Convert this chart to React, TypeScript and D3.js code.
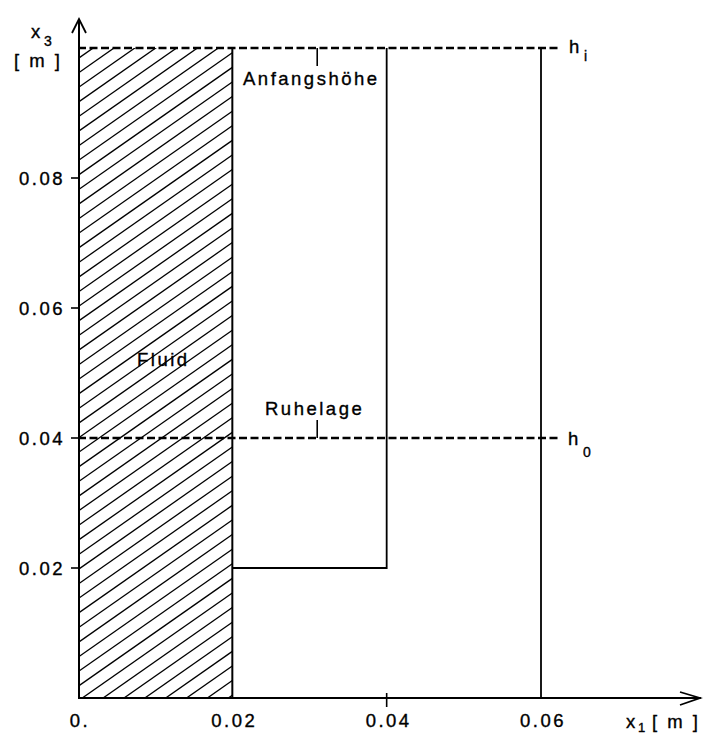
import React from "react";
import * as d3 from "d3";

const yTicks = [0.02, 0.04, 0.06, 0.08];
const yTickLabels = ["0.02", "0.04", "0.06", "0.08"];
const xTicks = [0, 0.02, 0.04, 0.06];
const xTickLabels = ["0.", "0.02", "0.04", "0.06"];

// Fluid region (hatched)
const fluidX = [0, 0.02];
const fluidY = [0, 0.1];
// Container outline: inner wall with step, outer wall
const innerWallX = [0.02, 0.02];
const innerWallY = [0, 0.1];
const stepX = [0.02, 0.04, 0.04];
const stepY = [0.02, 0.02, 0.1];
const outerWallX = [0.06, 0.06];
const outerWallY = [0, 0.1];
// Levels
const levelNames = ["Anfangshöhe", "Ruhelage"];
const levelValues = [0.1, 0.04];
const levelLeaderX = 0.031;

const W = 706;
const H = 734;
const FONT = "'Liberation Sans', Arial, Helvetica, sans-serif";

export default function App() {
  const x = d3.scaleLinear().domain([0, 0.06]).range([78, 541]);
  const y = d3.scaleLinear().domain([0, 0.1]).range([698, 48]);

  const x0 = x(fluidX[0]);
  const x1 = x(fluidX[1]);
  const yTop = y(fluidY[1]);
  const yBot = y(fluidY[0]);

  // hatch lines (style)
  const hatch: [number, number, number, number][] = [];
  const slope = 0.7;
  const spacing = 14.6;
  for (let c = yTop - 4; c < yBot + slope * (x1 - x0) + spacing; c += spacing) {
    hatch.push([x0, c, x1, c - slope * (x1 - x0)]);
  }

  const line = d3.line<[number, number]>();
  const stepPts: [number, number][] = stepX.map((v, i) => [x(v), y(stepY[i])]);

  const dashEnd = x(0.06) + 17;
  const txt = {
    fontFamily: FONT,
    fontSize: 18.5,
    letterSpacing: 2.5,
    fill: "#000",
    stroke: "#000",
    strokeWidth: 0.35,
  } as React.CSSProperties;

  return (
    <svg
      width={W}
      height={H}
      style={{ position: "absolute", left: 0, top: 0, background: "#fff" }}
    >
      <defs>
        <clipPath id="fluidClip">
          <rect x={x0} y={yTop} width={x1 - x0} height={yBot - yTop} />
        </clipPath>
      </defs>
      <rect width={W} height={H} fill="#fff" />
      <g clipPath="url(#fluidClip)">
        {hatch.map((h, i) => (
          <line key={i} x1={h[0]} y1={h[1]} x2={h[2]} y2={h[3]} stroke="#000" strokeWidth={1.3} />
        ))}
      </g>

      {/* walls */}
      <line x1={x(innerWallX[0])} y1={y(innerWallY[0])} x2={x(innerWallX[1])} y2={y(innerWallY[1])} stroke="#000" strokeWidth={2} />
      <path d={line(stepPts) || ""} fill="none" stroke="#000" strokeWidth={1.8} />
      <line x1={x(outerWallX[0])} y1={y(outerWallY[0])} x2={x(outerWallX[1])} y2={y(outerWallY[1])} stroke="#000" strokeWidth={1.8} />

      {/* level dashed lines */}
      {levelValues.map((v, i) => (
        <g key={i}>
          <line x1={x(0)} y1={y(v)} x2={dashEnd} y2={y(v)} stroke="#000" strokeWidth={2.6} strokeDasharray="8,3.5" />
          <line
            x1={x(levelLeaderX)}
            y1={y(v)}
            x2={x(levelLeaderX)}
            y2={i === 0 ? y(v) + 18 : y(v) - 18}
            stroke="#000"
            strokeWidth={1.6}
          />
        </g>
      ))}
      <text x={243} y={85} style={txt}>{levelNames[0]}</text>
      <text x={265} y={415} style={txt}>{levelNames[1]}</text>
      <text x={137} y={366} style={txt}>Fluid</text>

      <text x={569} y={53} style={txt}>h</text>
      <text x={584} y={61} style={{ ...txt, fontSize: 14 }}>i</text>
      <text x={568} y={445} style={txt}>h</text>
      <text x={583} y={457} style={{ ...txt, fontSize: 14 }}>0</text>

      {/* axes */}
      <line x1={79} y1={y(0)} x2={79} y2={19} stroke="#000" strokeWidth={2} />
      <path d="M72,33 L79,19 L86,33" fill="none" stroke="#000" strokeWidth={1.8} />
      <line x1={78} y1={y(0)} x2={701} y2={y(0)} stroke="#000" strokeWidth={2} />
      <path d="M680,692 L700,698 L680,705" fill="none" stroke="#000" strokeWidth={1.8} />

      {yTicks.map((t, i) => (
        <g key={t}>
          <line x1={71} y1={y(t)} x2={79} y2={y(t)} stroke="#000" strokeWidth={1.6} />
          <text x={65} y={y(t) + 6.5} textAnchor="end" style={txt}>{yTickLabels[i]}</text>
        </g>
      ))}
      {xTicks.map((t, i) => (
        <g key={t}>
          {t === 0.04 && (
            <line x1={x(t)} y1={y(0) - 5} x2={x(t)} y2={y(0) + 9} stroke="#000" strokeWidth={1.6} />
          )}
          <text x={x(t) + 2} y={727} textAnchor="middle" style={txt}>{xTickLabels[i]}</text>
        </g>
      ))}

      {/* axis titles */}
      <text x={31} y={38} style={txt}>x</text>
      <text x={44} y={46} style={{ ...txt, fontSize: 14 }}>3</text>
      <text x={14} y={67} style={txt}>[ m ]</text>

      <text x={626} y={728} style={txt}>x</text>
      <text x={638} y={732} style={{ ...txt, fontSize: 13, letterSpacing: 1 }}>1</text>
      <text x={652} y={728} style={txt}>[ m ]</text>
    </svg>
  );
}
